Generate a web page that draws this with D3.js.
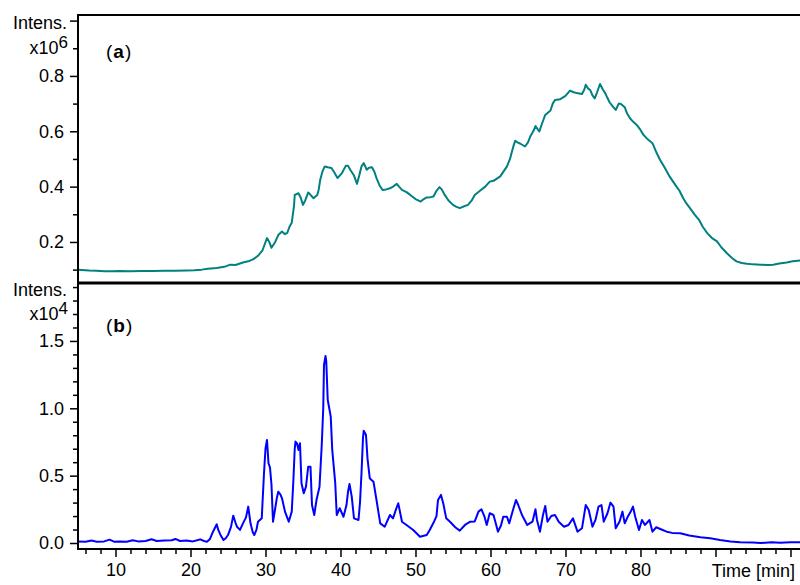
<!DOCTYPE html>
<html>
<head>
<meta charset="utf-8">
<script src="https://cdn.jsdelivr.net/npm/d3@7"></script>
<style>
  html, body { margin: 0; padding: 0; background: #fff; }
  svg { display: block; font-family: "Liberation Sans", Arial, sans-serif; }
</style>
</head>
<body>
<svg id="chart" width="800" height="585"></svg>
<script>
// ---- Data (time in min; intensity (a) in x10^6, (b) in x10^4) ----
const timeA = [5.0,5.5,6.5,7.5,8.5,9.5,10.5,12,13.5,15,16.5,18,19.5,20.5,21.5,22.3,23.5,24.5,25.3,26,27,27.7,28.4,29.0,29.6,30.2,30.5,30.8,31.3,31.7,32.2,32.6,32.9,33.2,33.5,33.8,33.9,34.4,34.7,35.0,35.3,35.7,36.0,36.4,36.9,37.1,37.3,37.6,37.9,38.3,38.8,39.2,39.6,39.9,40.2,40.7,41.0,41.3,41.8,42.2,42.5,42.8,43.1,43.5,43.8,44.2,44.5,44.8,45.2,45.6,46.1,46.6,47.0,47.5,47.8,48.2,48.8,49.3,50.0,50.7,51.1,51.5,52.0,52.4,52.8,53.2,53.5,53.9,54.4,55.0,55.4,55.9,56.4,57.0,57.5,57.9,58.6,59.3,59.9,60.4,61.3,62.2,62.6,62.8,63.1,63.3,63.6,64.0,64.6,65.0,65.3,65.7,66.0,66.5,66.9,67.3,68.0,68.3,68.6,69.3,70.0,70.6,71.0,71.5,72.2,72.5,72.7,73.0,73.3,73.6,73.9,74.2,74.6,75.0,75.3,75.6,75.9,76.3,76.7,77.1,77.4,77.9,78.2,78.6,79.0,79.5,80.0,80.4,81.0,81.6,82.1,82.6,83.2,83.9,84.3,84.8,85.2,85.7,86.1,86.6,87.2,87.8,88.3,88.9,89.5,90.2,90.8,91.5,92.2,92.8,93.5,94.2,95,96,97,97.7,98.5,99.5,100.3,101.3];
const intensA = [0.100,0.099,0.097,0.096,0.094,0.094,0.095,0.094,0.095,0.095,0.096,0.096,0.097,0.098,0.100,0.103,0.106,0.110,0.118,0.117,0.126,0.130,0.138,0.150,0.170,0.214,0.200,0.179,0.200,0.225,0.238,0.228,0.233,0.255,0.269,0.330,0.370,0.376,0.360,0.334,0.350,0.379,0.370,0.358,0.370,0.390,0.425,0.455,0.473,0.470,0.467,0.450,0.431,0.440,0.449,0.475,0.475,0.461,0.440,0.410,0.440,0.473,0.485,0.461,0.468,0.470,0.455,0.431,0.405,0.388,0.390,0.394,0.400,0.410,0.400,0.388,0.380,0.370,0.355,0.346,0.355,0.361,0.362,0.364,0.385,0.398,0.390,0.370,0.350,0.334,0.328,0.322,0.328,0.334,0.350,0.370,0.385,0.400,0.418,0.421,0.437,0.473,0.500,0.521,0.550,0.566,0.560,0.555,0.545,0.560,0.581,0.600,0.619,0.599,0.630,0.659,0.675,0.700,0.713,0.716,0.728,0.747,0.742,0.738,0.735,0.750,0.768,0.755,0.749,0.730,0.719,0.740,0.771,0.750,0.738,0.720,0.704,0.690,0.677,0.700,0.699,0.687,0.665,0.647,0.635,0.623,0.605,0.587,0.570,0.557,0.525,0.497,0.470,0.436,0.420,0.400,0.385,0.358,0.340,0.322,0.300,0.280,0.255,0.232,0.215,0.202,0.180,0.160,0.142,0.130,0.124,0.121,0.119,0.118,0.117,0.118,0.122,0.126,0.130,0.133];

const timeB = [5.0,6.0,6.8,7.5,8.5,9.2,9.8,10.5,11.5,12.3,13,14,14.8,15.5,16.5,17.5,18,18.6,19.5,20.3,21.0,21.3,21.8,22.2,22.6,23.0,23.5,23.7,24.0,24.4,24.7,25.0,25.4,25.7,26.0,26.2,26.6,27.0,27.4,27.7,28.0,28.3,28.5,28.8,29.0,29.5,29.8,30.0,30.2,30.4,30.6,30.8,31.0,31.3,31.5,31.7,32.0,32.2,32.6,33.1,33.5,33.7,33.9,34.0,34.2,34.4,34.6,34.8,35.1,35.4,35.6,35.7,36.0,36.2,36.5,36.8,37.2,37.5,37.7,37.8,38.0,38.1,38.3,38.5,38.7,38.9,39.3,39.5,39.9,40.4,40.8,41.0,41.2,41.5,41.8,42.4,42.6,42.8,43.0,43.1,43.4,43.6,43.9,44.1,44.4,44.8,45.3,45.9,46.6,47.0,47.4,47.7,48.2,48.8,49.7,50.6,51.5,51.9,52.4,52.8,53.0,53.4,53.7,54.1,54.6,55.3,55.9,56.6,57.3,57.9,58.4,58.8,59.2,59.5,59.9,60.4,60.7,61.0,61.4,61.7,62.2,62.5,63.0,63.4,63.7,64.2,64.9,65.6,66.0,66.2,66.6,67.0,67.3,67.6,68.1,68.6,69.1,69.8,70.4,71.0,71.6,72.2,72.7,73.1,73.6,74.0,74.4,74.8,75.1,75.6,76.0,76.4,76.7,77.2,77.6,77.9,78.3,78.7,79.0,79.3,79.8,80.2,80.6,81.2,81.6,82.1,82.8,83.5,84.2,85.3,86.5,88.0,89.3,90.6,92.0,93.3,95,96,97.5,98.6,100,101.3];
const intensB = [0.012,0.010,0.018,0.010,0.012,0.025,0.010,0.012,0.010,0.020,0.012,0.015,0.028,0.015,0.018,0.020,0.030,0.015,0.018,0.012,0.022,0.027,0.015,0.010,0.030,0.084,0.139,0.097,0.060,0.022,0.035,0.059,0.120,0.203,0.150,0.121,0.097,0.146,0.190,0.270,0.146,0.080,0.059,0.100,0.158,0.183,0.518,0.700,0.765,0.592,0.560,0.431,0.158,0.258,0.330,0.381,0.360,0.332,0.233,0.158,0.233,0.444,0.700,0.753,0.740,0.691,0.741,0.444,0.369,0.418,0.520,0.567,0.567,0.282,0.208,0.319,0.418,0.728,1.000,1.322,1.389,1.350,1.062,1.000,0.938,0.691,0.444,0.208,0.258,0.195,0.282,0.380,0.438,0.344,0.183,0.171,0.300,0.518,0.780,0.834,0.802,0.629,0.481,0.470,0.455,0.319,0.146,0.121,0.208,0.183,0.250,0.295,0.158,0.134,0.097,0.047,0.059,0.097,0.150,0.200,0.319,0.357,0.295,0.183,0.158,0.117,0.092,0.134,0.158,0.160,0.233,0.250,0.195,0.134,0.221,0.208,0.146,0.084,0.130,0.195,0.195,0.146,0.245,0.319,0.282,0.208,0.134,0.158,0.250,0.171,0.084,0.208,0.275,0.158,0.200,0.208,0.158,0.121,0.134,0.183,0.084,0.109,0.282,0.245,0.121,0.171,0.270,0.282,0.158,0.221,0.300,0.270,0.109,0.158,0.233,0.146,0.195,0.233,0.270,0.195,0.097,0.171,0.134,0.171,0.084,0.117,0.100,0.084,0.075,0.072,0.055,0.042,0.035,0.022,0.012,0.005,0.003,0.000,0.005,0.002,0.006,0.005];

const xMajorTicks = [10,20,30,40,50,60,70,80,90,100];
const xLabelTicks = [10,20,30,40,50,60,70,80];
const yMajorA = [0.2,0.4,0.6,0.8,1.0];
const yMinorA = [0.1,0.3,0.5,0.7,0.9];
const yLabelA = [0.2,0.4,0.6,0.8];
const yMajorB = [0.0,0.5,1.0,1.5];
const yMinorB = [0.1,0.2,0.3,0.4,0.6,0.7,0.8,0.9,1.1,1.2,1.3,1.4,1.6,1.7,1.8,1.9];
const yLabelB = [0.0,0.5,1.0,1.5];

// ---- Layout ----
const L = 78, R = 800, TOP = 15, MID = 283, BOT = 549;
const svg = d3.select("#chart");
const x = d3.scaleLinear().domain([5, 101.27]).range([L, R]);
const yA = d3.scaleLinear().domain([0, 1]).range([297.3, 20.6]);
const yB = d3.scaleLinear().domain([0, 1]).range([543, 408.3]);

const defs = svg.append("defs");
defs.append("clipPath").attr("id","clipA").append("rect")
  .attr("x", L).attr("y", TOP).attr("width", R-L).attr("height", MID-TOP);
defs.append("clipPath").attr("id","clipB").append("rect")
  .attr("x", L).attr("y", MID).attr("width", R-L).attr("height", BOT-MID);

// lines
const dataA = timeA.map((t,i)=>[t,intensA[i]]);
const dataB = timeB.map((t,i)=>[t,intensB[i]]);
svg.append("path").datum(dataA)
  .attr("clip-path","url(#clipA)")
  .attr("fill","none").attr("stroke","#008080").attr("stroke-width",2)
  .attr("stroke-linejoin","round")
  .attr("d", d3.line().x(d=>x(d[0])).y(d=>yA(d[1])));
svg.append("path").datum(dataB)
  .attr("clip-path","url(#clipB)")
  .attr("fill","none").attr("stroke","#0000ff").attr("stroke-width",2)
  .attr("stroke-linejoin","round")
  .attr("d", d3.line().x(d=>x(d[0])).y(d=>yB(d[1])));

const FS = "18px";
function styleAxis(g){
  g.select(".domain").remove();
  g.selectAll(".tick line").attr("stroke","#000").attr("stroke-width",1.5);
  g.selectAll(".tick text").attr("fill","#000").style("font-size",FS)
    .style("font-family",'"Liberation Sans", Arial, sans-serif');
}

// --- Top panel y axis ---
svg.append("g").attr("transform",`translate(${L},0)`)
  .call(d3.axisLeft(yA).tickValues(yMinorA).tickSize(5).tickFormat(""))
  .call(styleAxis);
svg.append("g").attr("transform",`translate(${L},0)`)
  .call(d3.axisLeft(yA).tickValues(yMajorA).tickSize(8).tickPadding(6)
     .tickFormat(d => yLabelA.includes(d) ? d3.format(".1f")(d) : ""))
  .call(styleAxis);

// --- Bottom panel y axis ---
svg.append("g").attr("transform",`translate(${L},0)`)
  .call(d3.axisLeft(yB).tickValues(yMinorB).tickSize(5).tickFormat(""))
  .call(styleAxis);
svg.append("g").attr("transform",`translate(${L},0)`)
  .call(d3.axisLeft(yB).tickValues(yMajorB).tickSize(8).tickPadding(6)
     .tickFormat(d => yLabelB.includes(d) ? d3.format(".1f")(d) : ""))
  .call(styleAxis);

// --- X axis ---
const xMinor = d3.range(6, 101, 2).filter(v => v % 10 !== 0);
svg.append("g").attr("transform",`translate(0,${BOT})`)
  .call(d3.axisBottom(x).tickValues(xMinor).tickSize(5).tickFormat(""))
  .call(styleAxis);
svg.append("g").attr("transform",`translate(0,${BOT})`)
  .call(d3.axisBottom(x).tickValues(xMajorTicks).tickSize(8).tickPadding(6)
     .tickFormat(d => xLabelTicks.includes(d) ? String(d) : ""))
  .call(styleAxis);

// --- Frame lines ---
svg.append("line").attr("x1",L).attr("x2",R).attr("y1",TOP).attr("y2",TOP)
  .attr("stroke","#000").attr("stroke-width",2);
svg.append("line").attr("x1",L).attr("x2",L).attr("y1",TOP-1).attr("y2",BOT+1)
  .attr("stroke","#000").attr("stroke-width",2);
svg.append("line").attr("x1",L).attr("x2",R).attr("y1",MID).attr("y2",MID)
  .attr("stroke","#000").attr("stroke-width",3);
svg.append("line").attr("x1",L-1).attr("x2",R).attr("y1",BOT).attr("y2",BOT)
  .attr("stroke","#000").attr("stroke-width",2);

// --- Texts ---
const txt = (xx, yy, s, anchor) => svg.append("text").attr("x",xx).attr("y",yy)
  .attr("text-anchor",anchor||"start").style("font-size",FS).attr("fill","#000").text(s);

// top units
txt(67, 29, "Intens.", "end");
const t6 = svg.append("text").attr("x",68).attr("y",54).attr("text-anchor","end")
  .style("font-size",FS).attr("fill","#000");
t6.append("tspan").text("x10");
t6.append("tspan").attr("dy",-6).style("font-size","17px").text("6");
// bottom units
txt(67, 296, "Intens.", "end");
const t4 = svg.append("text").attr("x",68).attr("y",320).attr("text-anchor","end")
  .style("font-size",FS).attr("fill","#000");
t4.append("tspan").text("x10");
t4.append("tspan").attr("dy",-6).style("font-size","17px").text("4");

// panel labels
function panelLabel(yy, letter){
  const t = svg.append("text").attr("x",106).attr("y",yy)
    .style("font-size","19px").style("letter-spacing","1px").attr("fill","#000");
  t.append("tspan").text("(");
  t.append("tspan").attr("font-weight","bold").text(letter);
  t.append("tspan").text(")");
}
panelLabel(58, "a");
panelLabel(332, "b");

// x title
txt(795, 577, "Time [min]", "end");
</script>
</body>
</html>
